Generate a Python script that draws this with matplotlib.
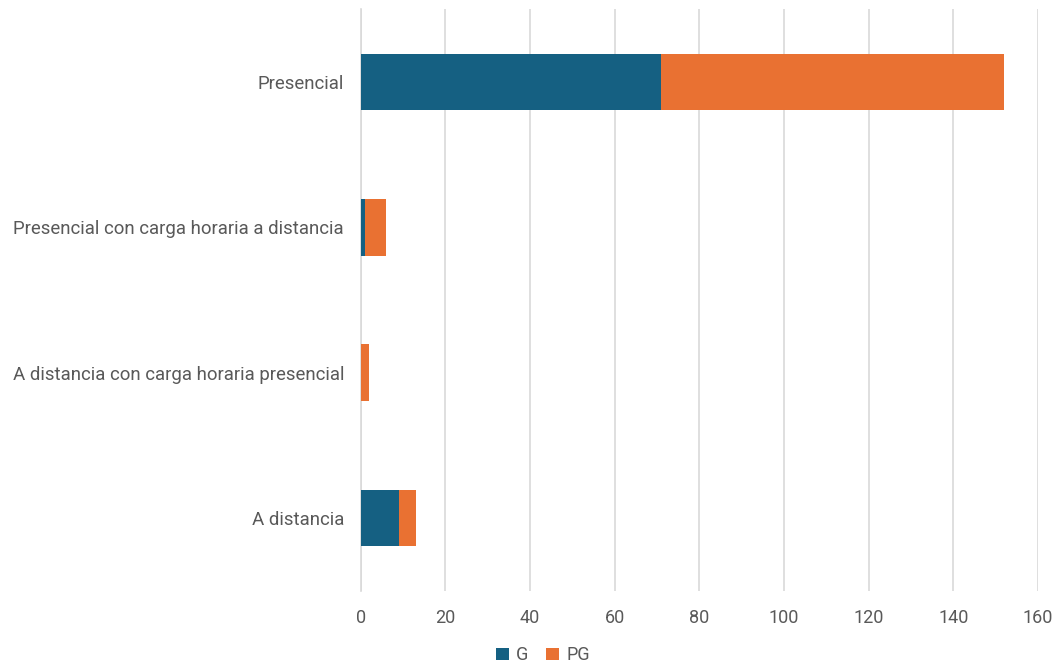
import matplotlib
matplotlib.use("Agg")
import matplotlib.pyplot as plt

plt.rcParams['font.family'] = ['Roboto', 'DejaVu Sans']

categorias = ["Presencial", "Presencial con carga horaria a distancia",
              "A distancia con carga horaria presencial", "A distancia"]
g = [71, 1, 0, 9]
pg = [81, 5, 2, 4]

fig = plt.figure(figsize=(10.58, 6.72), dpi=100)
ax = fig.add_axes([0.341, 0.121, 0.64, 0.865])

pos = list(range(len(categorias)))[::-1]
ax.barh(pos, g, height=0.39, color='#156082', label='G', zorder=3)
ax.barh(pos, pg, left=g, height=0.39, color='#E97132', label='PG', zorder=3)

ax.set_xlim(0, 160)
ax.set_ylim(-0.5, 3.5)
ax.set_xticks(range(0, 161, 20))
ax.set_yticks(pos)
ax.set_yticklabels(categorias)
ax.grid(axis='x', color='#D9D9D9', linewidth=1.2, zorder=0)
for s in ['top', 'right', 'bottom']:
    ax.spines[s].set_visible(False)
ax.spines['left'].set_color('#D9D9D9')
ax.spines['left'].set_linewidth(1.2)
ax.tick_params(axis='y', length=0, labelsize=13.4, colors='#595959', pad=12)
ax.tick_params(axis='x', length=0, labelsize=13, colors='#595959', pad=13)

fig.legend(loc='center', bbox_to_anchor=(0.513, 0.025),
           ncol=2, frameon=False, fontsize=13, handlelength=0.7, handleheight=0.7,
           handletextpad=0.4, columnspacing=1.0, labelcolor='#595959')

fig.savefig("out.png", dpi=100)
